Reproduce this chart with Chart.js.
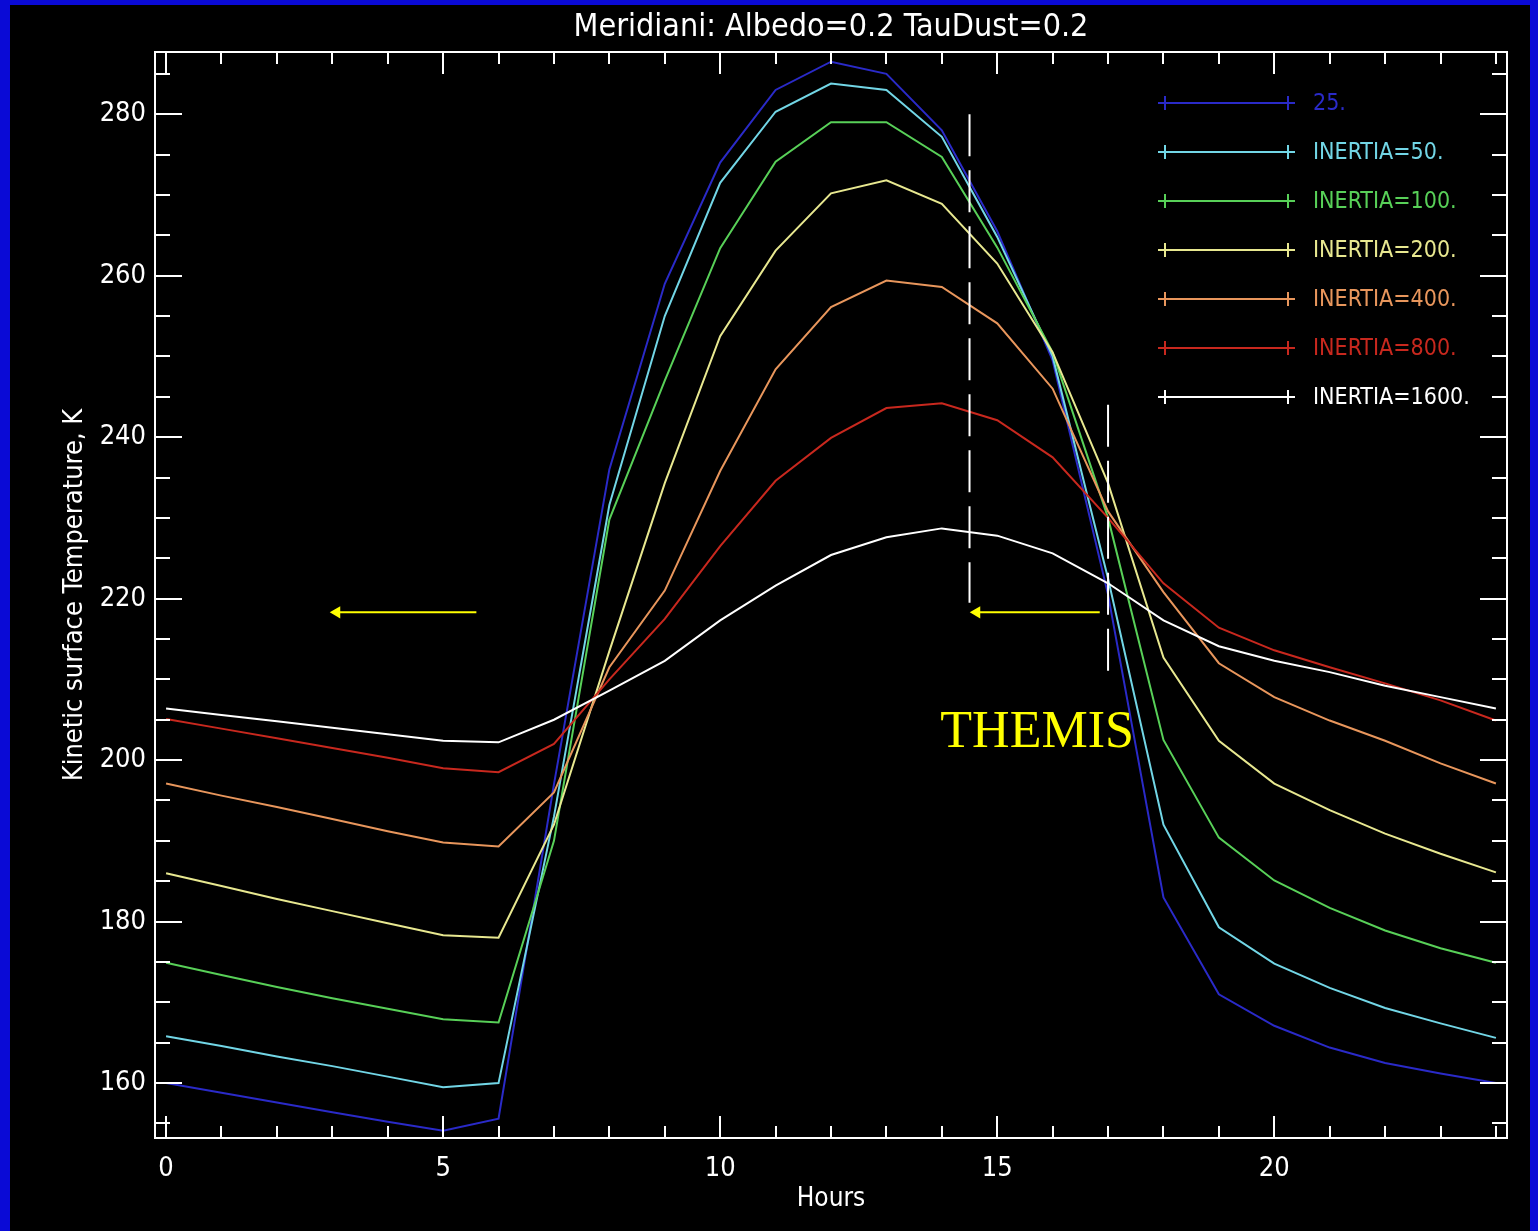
<!DOCTYPE html>
<html>
<head>
<meta charset="utf-8">
<title>Meridiani: Albedo=0.2 TauDust=0.2</title>
<script src="https://cdn.jsdelivr.net/npm/chart.js@4.4.1/dist/chart.umd.min.js"></script>
<style>
    html, body { margin: 0; padding: 0; width: 1538px; height: 1231px; overflow: hidden; background: #0a0ad6; }
    #myChart { position: absolute; left: 10px; top: 5px; background: #000; }
</style>
</head>
<body>
<canvas id="myChart" width="1520" height="1226"></canvas>
<script>
// hourly model output, local time 0..24
const hours = [0, 1, 2, 3, 4, 5, 6, 7, 8, 9, 10, 11, 12, 13, 14, 15, 16, 17, 18, 19, 20, 21, 22, 23, 24];

const inertia25 = [160.0, 158.8, 157.6, 156.4, 155.2, 154.1, 155.6, 197.0, 236.0, 259.0, 274.0, 283.0, 286.5, 285.0, 278.0, 265.5, 249.5, 220.5, 183.0, 171.0, 167.1, 164.4, 162.5, 161.2, 160.0];
const inertia50 = [165.8, 164.6, 163.3, 162.1, 160.8, 159.5, 160.0, 193.0, 231.6, 255.0, 271.5, 280.3, 283.8, 283.0, 277.2, 264.8, 250.0, 222.5, 192.0, 179.3, 174.8, 171.8, 169.3, 167.4, 165.6];
const inertia100 = [174.9, 173.4, 171.9, 170.5, 169.2, 167.9, 167.5, 190.0, 229.8, 247.0, 263.4, 274.1, 279.0, 279.0, 274.7, 263.5, 250.5, 230.0, 202.5, 190.4, 185.1, 181.7, 178.9, 176.7, 174.9];
const inertia200 = [186.0, 184.4, 182.8, 181.3, 179.8, 178.3, 178.0, 192.0, 213.5, 234.3, 252.5, 263.1, 270.2, 271.8, 268.9, 261.5, 250.5, 234.3, 212.7, 202.4, 197.1, 193.8, 190.9, 188.4, 186.1];
const inertia400 = [197.1, 195.6, 194.2, 192.7, 191.2, 189.8, 189.3, 196.0, 211.5, 221.0, 235.8, 248.4, 256.1, 259.4, 258.6, 254.1, 246.0, 230.8, 220.8, 212.0, 207.8, 204.9, 202.4, 199.6, 197.1];
const inertia800 = [205.1, 203.9, 202.7, 201.5, 200.3, 199.0, 198.5, 202.0, 210.0, 217.5, 226.5, 234.6, 239.9, 243.6, 244.2, 242.1, 237.5, 230.0, 221.9, 216.4, 213.6, 211.5, 209.5, 207.4, 204.9];
const inertia1600 = [206.4, 205.6, 204.8, 204.0, 203.2, 202.4, 202.2, 205.0, 208.6, 212.3, 217.3, 221.6, 225.4, 227.6, 228.7, 227.8, 225.6, 221.9, 217.3, 214.1, 212.3, 210.9, 209.2, 207.8, 206.4];

const seriesLabels = ['25.', 'INERTIA=50.', 'INERTIA=100.', 'INERTIA=200.', 'INERTIA=400.', 'INERTIA=800.', 'INERTIA=1600.'];
const seriesColors = ['#2a2ac8', '#72d6e6', '#58d058', '#e8e890', '#e8965c', '#c8281e', '#ffffff'];
const seriesValues = [inertia25, inertia50, inertia100, inertia200, inertia400, inertia800, inertia1600];

const xTicks = [0, 5, 10, 15, 20];
const yTicks = [160, 180, 200, 220, 240, 260, 280];

// THEMIS window markers (hours / K)
const themisHours = [14.5, 17];
const themisTop = [280, 244];
const themisBottom = [219.5, 210];
const arrowTail = [5.6, 16.85];
const arrowHead = [3.08, 14.63];
const arrowTemp = 218.3;

const FONT = '"DejaVu Sans Condensed", "DejaVu Sans", sans-serif';
const TITLE = 'Meridiani: Albedo=0.2 TauDust=0.2';

let datasets = [];
for (let i = 0; i < seriesValues.length; i++) {
    datasets.push({
        label: seriesLabels[i],
        data: hours.map((h, j) => ({ x: h, y: seriesValues[i][j] })),
        borderColor: seriesColors[i],
        borderWidth: 2,
        pointRadius: 0,
        tension: 0,
        order: seriesValues.length - i,
        inLegend: true
    });
}
for (let i = 0; i < themisHours.length; i++) {
    datasets.push({
        data: [{ x: themisHours[i], y: themisTop[i] }, { x: themisHours[i], y: themisBottom[i] }],
        borderColor: '#ffffff',
        borderWidth: 2,
        borderDash: [42, 14],
        pointRadius: 0,
        order: -1
    });
    datasets.push({
        data: [{ x: arrowHead[i], y: arrowTemp }, { x: arrowTail[i], y: arrowTemp }],
        borderColor: '#ffff00',
        backgroundColor: '#ffff00',
        borderWidth: 2,
        pointStyle: 'triangle',
        pointRotation: -90,
        pointRadius: [7, 0],
        pointBorderWidth: 0,
        order: -1
    });
}

// box with inward ticks on all four sides, plus the title centred over the plot
const frameTicks = {
    id: 'frameTicks',
    afterDatasetsDraw(chart) {
        const { ctx, chartArea: a, scales: { x, y } } = chart;
        ctx.save();
        ctx.strokeStyle = '#ffffff';
        ctx.lineWidth = 2;
        ctx.strokeRect(a.left, a.top, a.right - a.left, a.bottom - a.top);
        ctx.beginPath();
        for (let h = 0; h <= 24; h++) {
            const px = Math.round(x.getPixelForValue(h));
            const len = h % 5 === 0 ? 22 : 12;
            ctx.moveTo(px, a.bottom); ctx.lineTo(px, a.bottom - len);
            ctx.moveTo(px, a.top); ctx.lineTo(px, a.top + len);
        }
        for (let t = 155; t <= 285; t += 5) {
            const py = Math.round(y.getPixelForValue(t));
            const len = t % 20 === 0 ? 27 : 15;
            ctx.moveTo(a.left, py); ctx.lineTo(a.left + len, py);
            ctx.moveTo(a.right, py); ctx.lineTo(a.right - len, py);
        }
        ctx.stroke();

        ctx.font = '32px ' + FONT;
        ctx.fillStyle = '#ffffff';
        ctx.textAlign = 'center';
        ctx.textBaseline = 'middle';
        ctx.fillText(TITLE, (a.left + a.right) / 2, 23);
        ctx.restore();
    }
};

const lineLegend = {
    id: 'lineLegend',
    afterDatasetsDraw(chart) {
        const { ctx, chartArea: a } = chart;
        const x0 = a.right - 349, x1 = a.right - 212, tx = a.right - 194;
        ctx.save();
        ctx.font = '23px ' + FONT;
        ctx.textBaseline = 'middle';
        ctx.lineWidth = 2;
        chart.data.datasets.forEach((ds, i) => {
            if (!ds.inLegend) return;
            const yy = a.top + 51 + i * 49;
            ctx.strokeStyle = ds.borderColor;
            ctx.fillStyle = ds.borderColor;
            ctx.beginPath();
            ctx.moveTo(x0, yy); ctx.lineTo(x1, yy);
            ctx.moveTo(x0 + 7, yy - 7); ctx.lineTo(x0 + 7, yy + 7);
            ctx.moveTo(x1 - 7, yy - 7); ctx.lineTo(x1 - 7, yy + 7);
            ctx.stroke();
            ctx.fillText(ds.label, tx, yy + 1);
        });
        ctx.restore();
    }
};

const themisLabel = {
    id: 'themisLabel',
    afterDatasetsDraw(chart) {
        const { ctx, scales: { x, y } } = chart;
        ctx.save();
        ctx.font = '52px "Liberation Serif", "Times New Roman", serif';
        ctx.fillStyle = '#ffff00';
        ctx.textAlign = 'center';
        ctx.textBaseline = 'alphabetic';
        ctx.fillText('THEMIS', x.getPixelForValue(15.72), y.getPixelForValue(201.6));
        ctx.restore();
    }
};

const ctx = document.getElementById('myChart');

new Chart(ctx, {
    type: 'line',
    data: { datasets: datasets },
    options: {
        responsive: false,
        animation: false,
        devicePixelRatio: 1,
        layout: { padding: { left: 0, right: 23, top: 47, bottom: 0 } },
        scales: {
            x: {
                type: 'linear',
                min: -0.2,
                max: 24.2,
                grid: { display: false, drawTicks: false },
                border: { display: false },
                afterBuildTicks: (scale) => { scale.ticks = xTicks.map(v => ({ value: v })); },
                afterFit: (scale) => { scale.height = 93; },
                ticks: { color: '#ffffff', padding: 15, maxRotation: 0, font: { family: FONT, size: 27 } },
                title: {
                    display: true,
                    text: 'Hours',
                    color: '#ffffff',
                    font: { family: FONT, size: 26 },
                    padding: { top: 0, bottom: 16 }
                }
            },
            y: {
                min: 153.2,
                max: 287.7,
                grid: { display: false, drawTicks: false },
                border: { display: false },
                afterBuildTicks: (scale) => { scale.ticks = yTicks.map(v => ({ value: v })); },
                afterFit: (scale) => { scale.width = 145; },
                ticks: { color: '#ffffff', padding: 9, font: { family: FONT, size: 27 } },
                title: {
                    display: true,
                    text: 'Kinetic surface Temperature, K',
                    color: '#ffffff',
                    font: { family: FONT, size: 27 },
                    padding: { top: 49, bottom: 0 }
                }
            }
        },
        plugins: {
            legend: { display: false },
            tooltip: { enabled: false },
            title: { display: false }
        }
    },
    plugins: [frameTicks, lineLegend, themisLabel]
});
</script>
</body>
</html>
